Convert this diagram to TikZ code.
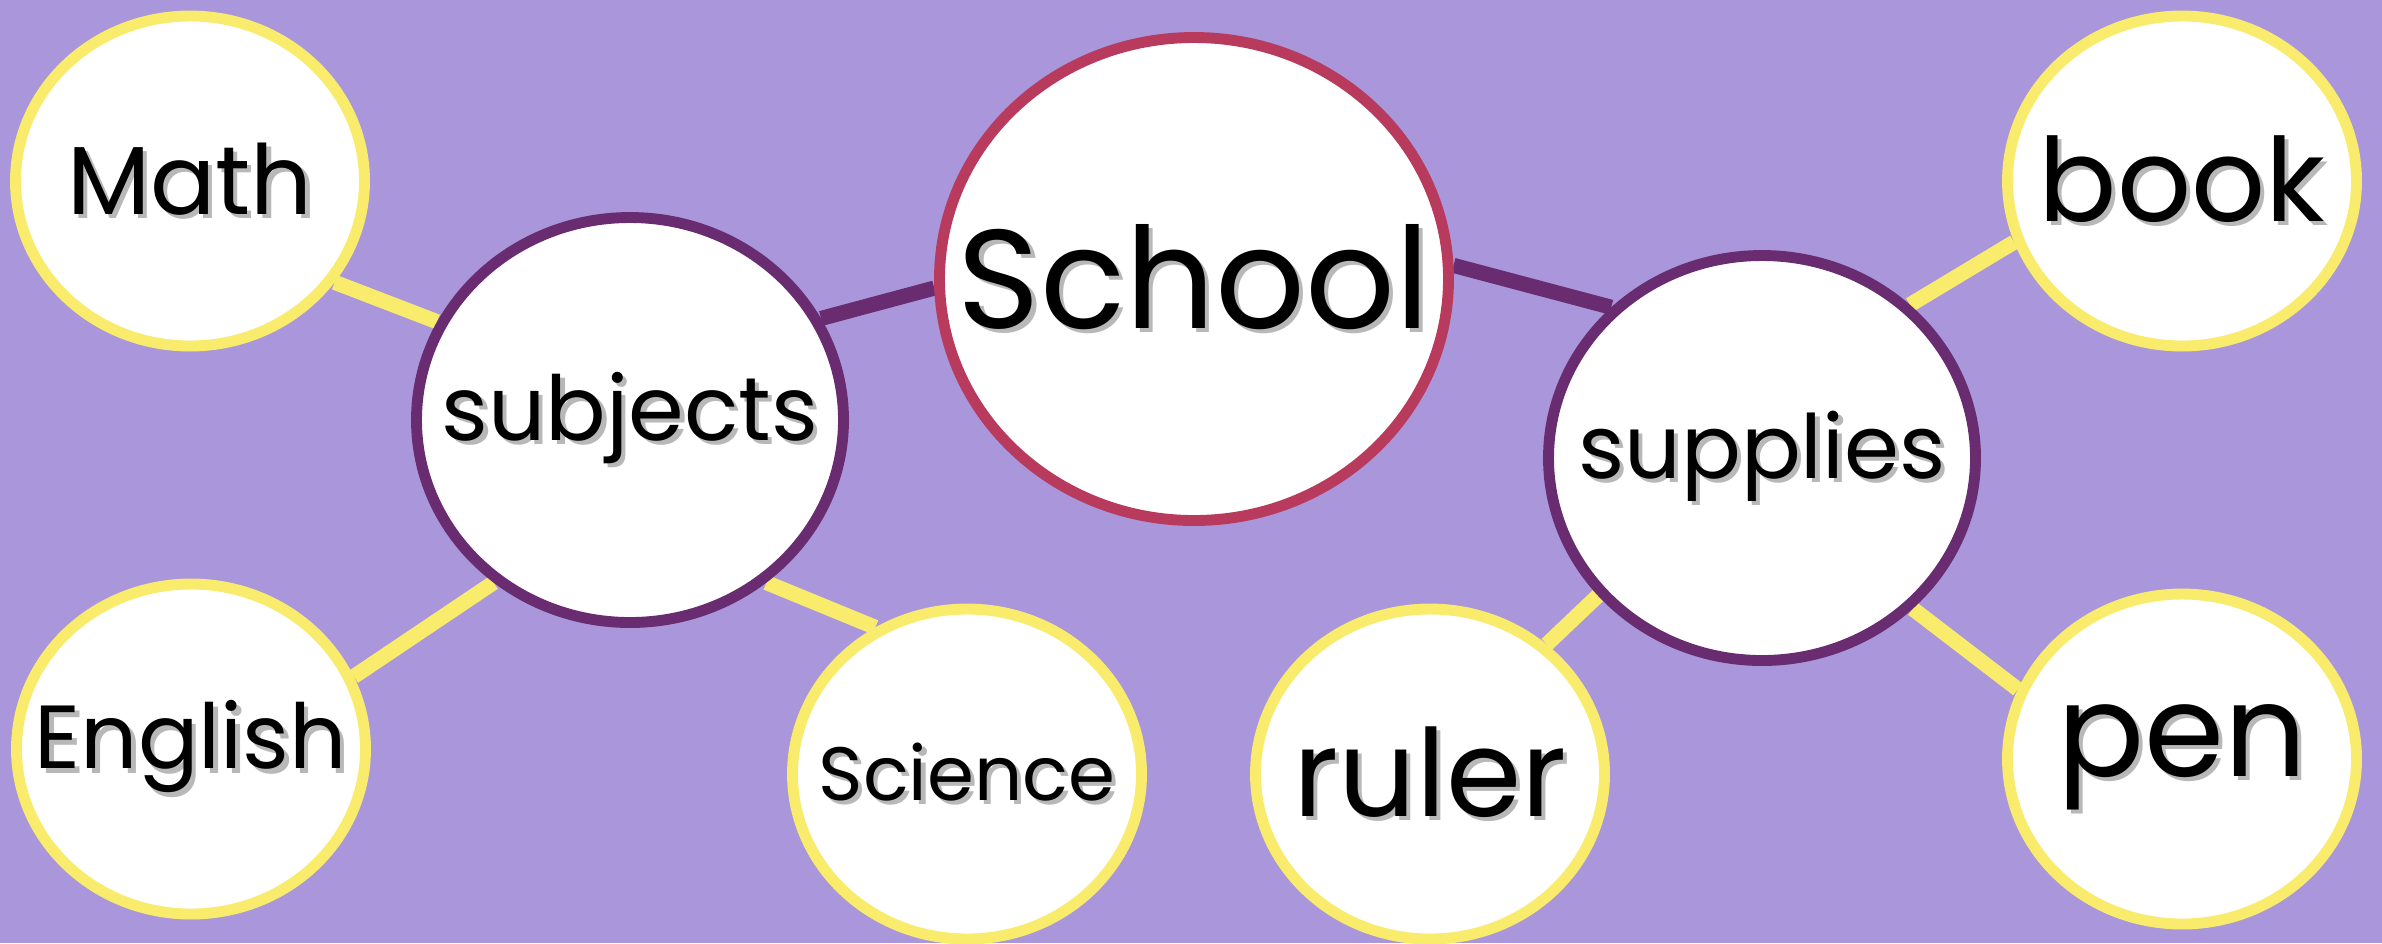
\documentclass[tikz,border=0pt]{standalone}
\usepackage{fontspec}
\setmainfont{Poppins}
\usetikzlibrary{shapes.geometric,positioning,backgrounds}
\definecolor{lavender}{HTML}{AA96DA}
\definecolor{sunny}{HTML}{F9EB6C}
\definecolor{plum}{HTML}{6A2C70}
\definecolor{berry}{HTML}{B83B5E}
\newcommand\txtshadow[1]{\makebox[0pt][c]{\makebox[0pt][l]{\hspace{1.2pt}\raisebox{-1.2pt}{\textcolor{black!28}{#1}}}#1}}

\begin{document}
\begin{tikzpicture}[on grid,
  bubble/.style = {ellipse, fill=white, inner sep=0pt, line width=3.1pt},
  hub/.style = {bubble, draw=berry, minimum width=5.09cm, minimum height=4.83cm, font=\fontsize{40}{44}\selectfont},
  branch/.style = {bubble, draw=plum, minimum width=4.27cm, minimum height=4.05cm, font=\fontsize{25.5}{30}\selectfont},
  leaf/.style = {bubble, draw=sunny, minimum width=3.49cm, minimum height=3.30cm, font=\fontsize{27.5}{32}\selectfont},
  twig/.style = {draw=sunny, line width=4.3pt},
  limb/.style = {draw=plum, line width=4.3pt}]
  \useasboundingbox (0,0) rectangle (23.82,-9.43);
  \node[hub] (school) at (11.94,-2.79) {\txtshadow{School}};
  \node[branch] (subj) [below left=1.41cm and 5.64cm of school] {\txtshadow{subjects}};
  \node[branch, font=\fontsize{25.2}{30}\selectfont] (supp) [below right=1.79cm and 5.68cm of school] {\txtshadow{supplies}};
  \node[leaf] (math) [above left=2.39cm and 4.40cm of subj] {\txtshadow{Math}};
  \node[leaf, font=\fontsize{25.5}{30}\selectfont] (english) [below left=3.29cm and 4.39cm of subj] {\txtshadow{English}};
  \node[leaf, font=\fontsize{21.5}{26}\selectfont] (science) [below right=3.54cm and 3.37cm of subj] {\txtshadow{Science}};
  \node[leaf, font=\fontsize{34.5}{40}\selectfont] (ruler) [below left=3.16cm and 3.32cm of supp] {\txtshadow{ruler}};
  \node[leaf, font=\fontsize{33}{36}\selectfont] (book) [above right=2.77cm and 4.20cm of supp] {\txtshadow{book}};
  \node[leaf, font=\fontsize{36.7}{40}\selectfont] (pen) [below right=3.01cm and 4.20cm of supp] {\txtshadow{pen}};
  \begin{scope}[on background layer]
    \fill[lavender] (0,0) rectangle (23.82,-9.43);
    \draw[limb] (subj.28) -- (school.182);
    \draw[limb] (school.3) -- (supp.135);
    \draw[twig] (subj.153) -- (math.-35);
    \draw[twig] (subj.230) -- (english.24);
    \draw[twig] (subj.-50) -- (science.122);
    \draw[twig] (supp.220.6) -- (ruler.48.6);
    \draw[twig] (supp.46) -- (book.200);
    \draw[twig] (supp.-45) -- (pen.157);
  \end{scope}
\end{tikzpicture}
\end{document}
